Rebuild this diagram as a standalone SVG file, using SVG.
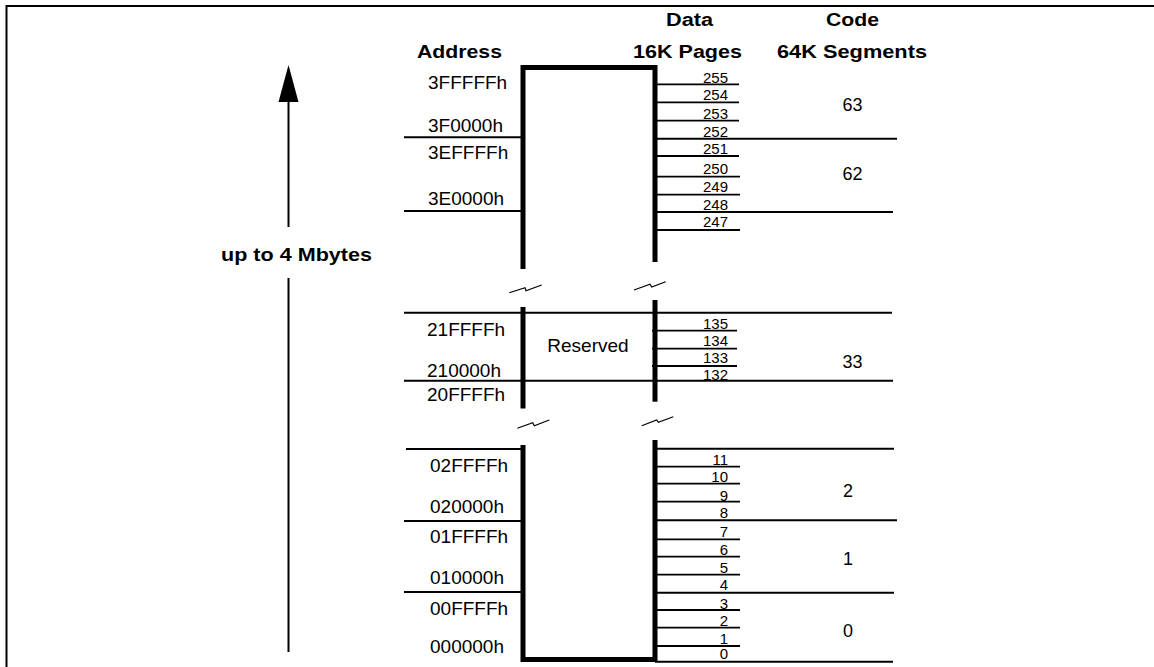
<svg xmlns="http://www.w3.org/2000/svg" width="1154" height="667" viewBox="0 0 1154 667">
<style>
text{font-family:"Liberation Sans",Arial,sans-serif;fill:#000}
.b{font-weight:bold;font-size:18px}
.a{font-size:19px}
.n{font-size:15px;text-anchor:end}
.s{font-size:18px;text-anchor:middle}
.thick{stroke:#000;stroke-width:5;fill:none}
.ln{stroke:#000;stroke-width:2;fill:none}
.tk{stroke:#000;stroke-width:1.8;fill:none}
.brk{stroke:#000;stroke-width:1.2;fill:none}
</style>
<rect width="1154" height="667" fill="#fff"/>
<g id="frame">
<path class="ln" d="M6.5,667 V6 H1154"/>
</g>
<g id="headers">
<text class="b" x="666" y="26" textLength="47" lengthAdjust="spacingAndGlyphs">Data</text>
<text class="b" x="633" y="57.5" textLength="109" lengthAdjust="spacingAndGlyphs">16K Pages</text>
<text class="b" x="417" y="57.5" textLength="85" lengthAdjust="spacingAndGlyphs">Address</text>
<text class="b" x="826" y="26" textLength="53" lengthAdjust="spacingAndGlyphs">Code</text>
<text class="b" x="777" y="57.5" textLength="150" lengthAdjust="spacingAndGlyphs">64K Segments</text>
</g>
<g id="size-arrow">
<polygon points="288.5,65 278.5,102 298.5,102" fill="#000"/>
<line class="ln" x1="288.5" y1="101" x2="288.5" y2="227"/>
<line class="ln" x1="288.5" y1="278" x2="288.5" y2="652"/>
<text class="b" x="221" y="261" textLength="151" lengthAdjust="spacingAndGlyphs">up to 4 Mbytes</text>
</g>
<g id="memory-block">
<path class="thick" d="M523,269 V67.5 H655 V262"/>
<path class="thick" d="M523,307 V408.5"/>
<path class="thick" d="M655,300 V401.7"/>
<path class="thick" d="M523,445 V659.5 H655 V440"/>
<text class="a" x="588" y="352" text-anchor="middle">Reserved</text>
</g>
<g id="breaks">
<polyline class="brk" points="509.3,292.7 525,287.7 526,290.7 541.7,285"/>
<polyline class="brk" points="634,290 650,284.3 651.7,287 665.7,281.7"/>
<polyline class="brk" points="517.3,428.3 532.7,422.7 534.3,425.7 549.3,420"/>
<polyline class="brk" points="641.7,425.7 656.7,420 658.3,422.3 673.3,416.7"/>
</g>
<g id="connectors">
<line class="ln" x1="404" y1="137.3" x2="523" y2="137.3"/>
<line class="ln" x1="404" y1="211" x2="523" y2="211"/>
<line class="ln" x1="655" y1="138.7" x2="897" y2="138.7"/>
<line class="ln" x1="655" y1="212" x2="893" y2="212"/>
<line class="ln" x1="404" y1="312.7" x2="892" y2="312.7"/>
<line class="ln" x1="404" y1="380.7" x2="893" y2="380.7"/>
<line class="ln" x1="406" y1="449" x2="523" y2="449"/>
<line class="ln" x1="404" y1="521" x2="523" y2="521"/>
<line class="ln" x1="404" y1="592" x2="523" y2="592"/>
<line class="ln" x1="655" y1="448.7" x2="894" y2="448.7"/>
<line class="ln" x1="655" y1="520.3" x2="897" y2="520.3"/>
<line class="ln" x1="655" y1="592.7" x2="894" y2="592.7"/>
<line class="ln" x1="655" y1="661.7" x2="893" y2="661.7"/>
<path class="tk" d="M655,84.3 H739 M655,102.3 H739 M655,120.7 H739 M655,156 H739 M655,176.7 H740 M655,194.7 H740 M655,230 H740"/>
<path class="tk" d="M652,330.7 H737 M652,348.7 H737 M652,366 H737"/>
<path class="tk" d="M655,466.7 H740 M655,483.7 H740 M655,501.7 H740 M655,539.3 H740 M655,556.7 H740 M655,574.7 H740 M655,610 H740 M655,627.7 H740 M655,646 H740"/>
</g>
<g id="address-labels">
<text class="a" x="428" y="89">3FFFFFh</text>
<text class="a" x="428" y="131.5">3F0000h</text>
<text class="a" x="428" y="159">3EFFFFh</text>
<text class="a" x="428" y="205">3E0000h</text>
<text class="a" x="427" y="336">21FFFFh</text>
<text class="a" x="427" y="376.5">210000h</text>
<text class="a" x="427" y="400.5">20FFFFh</text>
<text class="a" x="430" y="471.5">02FFFFh</text>
<text class="a" x="430" y="513">020000h</text>
<text class="a" x="430" y="542.5">01FFFFh</text>
<text class="a" x="430" y="584">010000h</text>
<text class="a" x="430" y="615">00FFFFh</text>
<text class="a" x="430" y="653">000000h</text>
</g>
<g id="page-labels">
<text class="n" x="728" y="83">255</text>
<text class="n" x="728" y="100">254</text>
<text class="n" x="728" y="118.5">253</text>
<text class="n" x="728" y="137">252</text>
<text class="n" x="728" y="153.5">251</text>
<text class="n" x="728" y="173.5">250</text>
<text class="n" x="728" y="192">249</text>
<text class="n" x="728" y="209.5">248</text>
<text class="n" x="728" y="227">247</text>
<text class="n" x="728" y="328.5">135</text>
<text class="n" x="728" y="346">134</text>
<text class="n" x="728" y="362.5">133</text>
<text class="n" x="728" y="379.5">132</text>
<text class="n" x="728" y="464.5">11</text>
<text class="n" x="728" y="482">10</text>
<text class="n" x="728" y="500.5">9</text>
<text class="n" x="728" y="518">8</text>
<text class="n" x="728" y="537">7</text>
<text class="n" x="728" y="555">6</text>
<text class="n" x="728" y="572.5">5</text>
<text class="n" x="728" y="590">4</text>
<text class="n" x="728" y="608.5">3</text>
<text class="n" x="728" y="626">2</text>
<text class="n" x="728" y="643.5">1</text>
<text class="n" x="728" y="659">0</text>
</g>
<g id="segment-labels">
<text class="s" x="852.5" y="111">63</text>
<text class="s" x="852.5" y="180">62</text>
<text class="s" x="852.5" y="368.3">33</text>
<text class="s" x="848" y="497">2</text>
<text class="s" x="848" y="565">1</text>
<text class="s" x="848" y="636.7">0</text>
</g>
</svg>
